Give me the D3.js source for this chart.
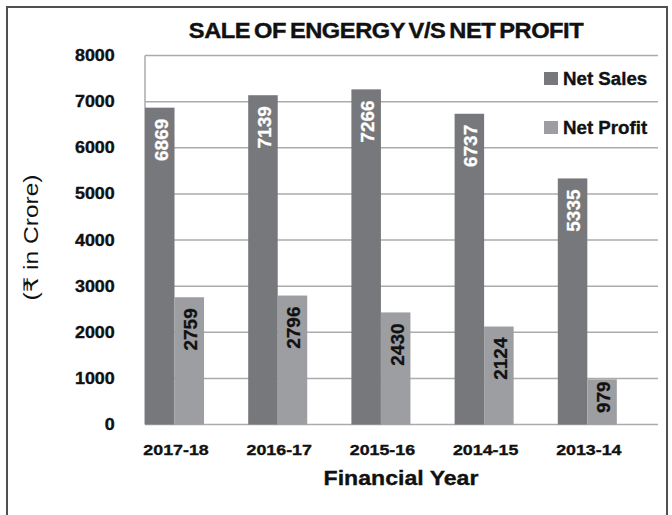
<!DOCTYPE html>
<html>
<head>
<meta charset="utf-8">
<script src="https://cdn.jsdelivr.net/npm/d3@7"></script>
<style>
  body { margin: 0; background: #fff; }
  svg { font-family: "Liberation Sans", Arial, "DejaVu Sans", sans-serif; }
</style>
</head>
<body>
<svg width="672" height="515"></svg>
<script>
// chart data
const years = ["2017-18", "2016-17", "2015-16", "2014-15", "2013-14"];
const netSales = [6869, 7139, 7266, 6737, 5335];
const netProfit = [2759, 2796, 2430, 2124, 979];
const seriesNames = ["Net Sales", "Net Profit"];
const yTicks = [0, 1000, 2000, 3000, 4000, 5000, 6000, 7000, 8000];

const colors = { "Net Sales": "#77787b", "Net Profit": "#9d9ea2" };
const sx = 1.12; // the picture's text is a bit wide

const svg = d3.select("svg");

// outer frame (runs off the bottom)
svg.append("rect")
    .attr("x", 7).attr("y", 7)
    .attr("width", 660).attr("height", 520)
    .attr("fill", "none")
    .attr("stroke", "#505050")
    .attr("stroke-width", 2);

const plotLeft = 145, plotRight = 658, plotTop = 55.5, plotBottom = 424.5;

const y = d3.scaleLinear().domain([0, 8000]).range([plotBottom, plotTop]);

const x0 = d3.scaleBand()
    .domain(years)
    .range([plotLeft, plotLeft + 5 * 103.2])
    .paddingInner(0.428)
    .paddingOuter(0.214)
    .align(0);

const x1 = d3.scaleBand()
    .domain(seriesNames)
    .range([0, x0.bandwidth()]);

// gridlines
svg.append("g")
    .selectAll("line")
    .data(yTicks)
    .join("line")
    .attr("x1", plotLeft).attr("x2", plotRight)
    .attr("y1", d => y(d)).attr("y2", d => y(d))
    .attr("stroke", "#ababab")
    .attr("stroke-width", 1.5);

svg.append("line")
    .attr("x1", plotLeft).attr("x2", plotLeft)
    .attr("y1", plotTop).attr("y2", plotBottom)
    .attr("stroke", "#ababab")
    .attr("stroke-width", 1.5);

// y axis
const yAxis = svg.append("g")
    .attr("transform", "translate(" + plotLeft + ",0)")
    .call(d3.axisLeft(y).tickValues(yTicks).tickSize(0).tickPadding(27).tickFormat(d3.format("d")));
yAxis.select(".domain").remove();
yAxis.selectAll("text")
    .attr("transform", "scale(" + sx + ",1)")
    .attr("font-family", "Liberation Sans, Arial, sans-serif")
    .attr("font-size", 16)
    .attr("font-weight", "bold")
    .attr("fill", "#111")
    .attr("stroke", "#111")
    .attr("stroke-width", 0.35);

// bars
const rows = years.map((yr, i) => ({ year: yr, values: [
    { key: "Net Sales", value: netSales[i] },
    { key: "Net Profit", value: netProfit[i] }
]}));

const groups = svg.append("g")
    .selectAll("g")
    .data(rows)
    .join("g")
    .attr("transform", d => "translate(" + x0(d.year) + ",0)");

groups.selectAll("rect")
    .data(d => d.values)
    .join("rect")
    .attr("x", d => x1(d.key))
    .attr("y", d => y(d.value))
    .attr("width", x1.bandwidth())
    .attr("height", d => y(0) - y(d.value))
    .attr("fill", d => colors[d.key]);

groups.selectAll("text")
    .data(d => d.values)
    .join("text")
    .attr("transform", d => {
        const h = y(0) - y(d.value);
        const off = h < 60 ? 2 : 11;
        return "translate(" + (x1(d.key) + x1.bandwidth() / 2 + 1) + "," + (y(d.value) + off) + ") rotate(-90)";
    })
    .attr("text-anchor", "end")
    .attr("dy", "0.36em")
    .attr("font-size", 19)
    .attr("font-weight", "bold")
    .attr("fill", d => d.key === "Net Sales" ? "#fff" : "#111")
    .attr("stroke", d => d.key === "Net Sales" ? "#fff" : "#111")
    .attr("stroke-width", 0.3)
    .text(d => d.value);

// x labels
svg.append("g")
    .selectAll("text")
    .data(years)
    .join("text")
    .attr("transform", d => "translate(" + (x0(d) + x0.bandwidth() / 2 + 1.5) + ",455) scale(1.15,1)")
    .attr("text-anchor", "middle")
    .attr("font-size", 15.5)
    .attr("font-weight", "bold")
    .attr("fill", "#111")
    .attr("stroke", "#111")
    .attr("stroke-width", 0.35)
    .text(d => d);

svg.append("text")
    .attr("transform", "translate(401,485) scale(1.1,1)")
    .attr("text-anchor", "middle")
    .attr("font-size", 21)
    .attr("font-weight", "bold")
    .attr("fill", "#111")
    .attr("stroke", "#111")
    .attr("stroke-width", 0.35)
    .text("Financial Year");

// y title
svg.append("text")
    .attr("transform", "translate(38,237.5) rotate(-90)")
    .attr("text-anchor", "middle")
    .attr("font-size", 20)
    .attr("textLength", 126)
    .attr("lengthAdjust", "spacingAndGlyphs")
    .attr("fill", "#111")
    .text("(₹ in Crore)");

// title
svg.append("text")
    .attr("transform", "translate(386,38) scale(1.1,1)")
    .attr("text-anchor", "middle")
    .attr("font-size", 21.5)
    .attr("font-weight", "bold")
    .attr("letter-spacing", -0.4)
    .attr("word-spacing", -2)
    .attr("fill", "#111")
    .attr("stroke", "#111")
    .attr("stroke-width", 0.4)
    .text("SALE OF ENGERGY V/S NET PROFIT");

// legend
const legend = svg.append("g")
    .selectAll("g")
    .data(seriesNames)
    .join("g")
    .attr("transform", (d, i) => "translate(544," + (72 + i * 49) + ")");

legend.append("rect")
    .attr("width", 14).attr("height", 13)
    .attr("fill", d => colors[d]);

legend.append("text")
    .attr("transform", "translate(19,13) scale(1.04,1)")
    .attr("font-size", 18)
    .attr("font-weight", "bold")
    .attr("fill", "#111")
    .attr("stroke", "#111")
    .attr("stroke-width", 0.35)
    .text(d => d);
</script>
</body>
</html>
